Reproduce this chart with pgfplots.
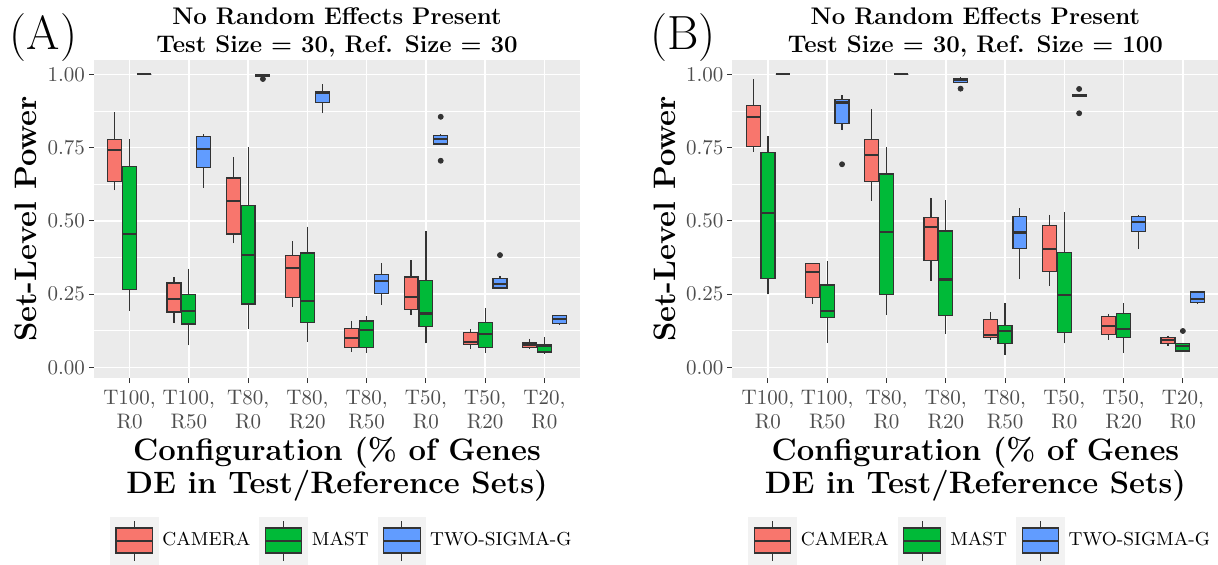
\documentclass[border=0pt]{standalone}
\usepackage{pgfplots}
\pgfplotsset{compat=1.18}
\usepgfplotslibrary{statistics}
\definecolor{camera}{HTML}{F8766D}
\definecolor{mast}{HTML}{00BA38}
\definecolor{tsg}{HTML}{619CFF}
\definecolor{ggbg}{HTML}{EBEBEB}
\definecolor{ggkey}{HTML}{F2F2F2}
\definecolor{gg20}{HTML}{333333}
\definecolor{gg30}{HTML}{4D4D4D}
\newcommand{\bx}[7]{\addplot[forget plot, boxplot/draw direction=y, boxplot prepared={draw position=#1, lower whisker=#2, lower quartile=#3, median=#4, upper quartile=#5, upper whisker=#6, box extend=0.235, whisker extend=0}, fill=#7, draw=gg20, line width=0.6pt] coordinates {};}
\pgfplotsset{
  ggkey/.style={legend image code/.code={
     \fill[ggkey] (0pt,-11.7pt) rectangle (23.8pt,11.7pt);
     \draw[gg20, line width=0.5pt] (11.9pt,-10pt) -- (11.9pt,10pt);
     \filldraw[fill=#1, draw=gg20, line width=0.6pt] (2.8pt,-6.25pt) rectangle (21pt,6.25pt);
     \draw[gg20, line width=1pt] (2.8pt,0pt) -- (21pt,0pt);
  }},
  ggaxis/.style={
    anchor=south west, scale only axis, width=243pt, height=159pt,
    xmin=0.4, xmax=8.6, ymin=-0.0365, ymax=1.0488,
    axis background/.style={fill=ggbg},
    axis line style={draw=none},
    xtick={1,...,8},
    xticklabels={{T100,\\R0},{T100,\\R50},{T80,\\R0},{T80,\\R20},{T80,\\R50},{T50,\\R0},{T50,\\R20},{T20,\\R0}},
    ytick={0,0.25,0.5,0.75,1}, yticklabels={0.00,0.25,0.50,0.75,1.00},
    minor ytick={0.125,0.375,0.625,0.875},
    xmajorgrids, ymajorgrids, yminorgrids,
    major grid style={white, line width=0.8pt},
    minor grid style={white, line width=0.4pt},
    tick align=outside, major tick length=2.5pt, minor tick length=0pt,
    xtick pos=left, ytick pos=left,
    tick style={gg20, line width=0.5pt},
    tick label style={font=\fontsize{10.5}{12}\selectfont, text=gg30},
    xticklabel style={align=center},
    yticklabel style={xshift=1.5pt},
    title style={at={(0.5,1)}, anchor=south, yshift=-4.8pt, inner sep=0pt, align=center, font=\fontsize{12}{14}\selectfont\bfseries},
    xlabel style={at={(axis description cs:0.5,0)}, anchor=north, yshift=-29.4pt, inner sep=0pt, align=center, font=\fontsize{15.5}{16.5}\selectfont\bfseries},
    ylabel style={at={(axis description cs:0,0.5)}, anchor=base, yshift=28.5pt, inner sep=0pt, font=\fontsize{15.5}{16.5}\selectfont\bfseries},
    xlabel={Configuration (\% of Genes\\DE in Test/Reference Sets)},
    ylabel={Set-Level Power},
    boxplot/every median/.style={line width=1.1pt},
    legend columns=3,
    legend style={at={(0.512,-0.511)}, anchor=center, draw=none, fill=none, font=\fontsize{9.4}{11}\selectfont, /tikz/every even column/.append style={column sep=2.5pt}},
    legend cell align=left,
  }
}
\begin{document}
\begin{tikzpicture}
\useasboundingbox (0,0) rectangle (609pt,282pt);
\node[anchor=base west, inner sep=0pt, font=\fontsize{24}{28}\selectfont] at (4.8pt,257.5pt) {(A)};
\node[anchor=base west, inner sep=0pt, font=\fontsize{24}{28}\selectfont] at (324.8pt,257.5pt) {(B)};

\begin{axis}[ggaxis, at={(47pt,93pt)}, title={No Random Effects Present\\Test Size = 30, Ref. Size = 30}]
% T100,R0
\bx{0.75}{0.604}{0.635}{0.741}{0.777}{0.871}{camera}
\bx{1.00}{0.193}{0.265}{0.454}{0.686}{0.778}{mast}
\bx{1.25}{1.000}{1.000}{1.000}{1.000}{1.000}{tsg}
% T100,R50
\bx{1.75}{0.150}{0.189}{0.234}{0.288}{0.309}{camera}
\bx{2.00}{0.075}{0.148}{0.191}{0.249}{0.337}{mast}
\bx{2.25}{0.612}{0.683}{0.744}{0.788}{0.795}{tsg}
% T80,R0
\bx{2.75}{0.423}{0.455}{0.567}{0.646}{0.717}{camera}
\bx{3.00}{0.130}{0.216}{0.384}{0.553}{0.751}{mast}
\bx{3.25}{0.992}{0.994}{0.998}{1.000}{1.000}{tsg}
% T80,R20
\bx{3.75}{0.207}{0.238}{0.340}{0.381}{0.430}{camera}
\bx{4.00}{0.087}{0.152}{0.226}{0.390}{0.480}{mast}
\bx{4.25}{0.867}{0.904}{0.935}{0.942}{0.966}{tsg}
% T80,R50
\bx{4.75}{0.052}{0.068}{0.100}{0.132}{0.159}{camera}
\bx{5.00}{0.050}{0.068}{0.127}{0.158}{0.175}{mast}
\bx{5.25}{0.214}{0.251}{0.295}{0.316}{0.355}{tsg}
% T50,R0
\bx{5.75}{0.177}{0.198}{0.240}{0.308}{0.366}{camera}
\bx{6.00}{0.082}{0.139}{0.184}{0.297}{0.465}{mast}
\bx{6.25}{0.758}{0.762}{0.778}{0.790}{0.795}{tsg}
% T50,R20
\bx{6.75}{0.061}{0.078}{0.086}{0.119}{0.130}{camera}
\bx{7.00}{0.050}{0.067}{0.114}{0.153}{0.202}{mast}
\bx{7.25}{0.268}{0.271}{0.283}{0.304}{0.310}{tsg}
% T20,R0
\bx{7.75}{0.063}{0.067}{0.075}{0.083}{0.098}{camera}
\bx{8.00}{0.046}{0.052}{0.074}{0.077}{0.102}{mast}
\bx{8.25}{0.146}{0.150}{0.164}{0.177}{0.177}{tsg}
% outliers
\addplot[forget plot, only marks, mark=*, mark size=1.25pt, gg20] coordinates {(3.25,0.984) (6.25,0.855) (6.25,0.705) (7.25,0.383)};
\addlegendimage{ggkey=camera}\addlegendentry{CAMERA}
\addlegendimage{ggkey=mast}\addlegendentry{MAST}
\addlegendimage{ggkey=tsg}\addlegendentry{TWO-SIGMA-G}
\end{axis}

\begin{axis}[ggaxis, at={(366.2pt,93pt)}, title={No Random Effects Present\\Test Size = 30, Ref. Size = 100}]
% T100,R0
\bx{0.75}{0.736}{0.754}{0.853}{0.893}{0.983}{camera}
\bx{1.00}{0.250}{0.302}{0.526}{0.732}{0.789}{mast}
\bx{1.25}{1.000}{1.000}{1.000}{1.000}{1.000}{tsg}
% T100,R50
\bx{1.75}{0.216}{0.239}{0.324}{0.355}{0.355}{camera}
\bx{2.00}{0.084}{0.169}{0.192}{0.281}{0.363}{mast}
\bx{2.25}{0.809}{0.831}{0.904}{0.915}{0.929}{tsg}
% T80,R0
\bx{2.75}{0.568}{0.633}{0.724}{0.778}{0.882}{camera}
\bx{3.00}{0.178}{0.249}{0.461}{0.660}{0.752}{mast}
\bx{3.25}{1.000}{1.000}{1.000}{1.000}{1.000}{tsg}
% T80,R20
\bx{3.75}{0.295}{0.364}{0.480}{0.512}{0.579}{camera}
\bx{4.00}{0.115}{0.178}{0.300}{0.465}{0.571}{mast}
\bx{4.25}{0.973}{0.973}{0.981}{0.987}{0.990}{tsg}
% T80,R50
\bx{4.75}{0.094}{0.102}{0.110}{0.163}{0.188}{camera}
\bx{5.00}{0.041}{0.082}{0.124}{0.142}{0.218}{mast}
\bx{5.25}{0.301}{0.406}{0.460}{0.516}{0.543}{tsg}
% T50,R0
\bx{5.75}{0.277}{0.328}{0.404}{0.485}{0.521}{camera}
\bx{6.00}{0.082}{0.119}{0.246}{0.392}{0.529}{mast}
\bx{6.25}{0.925}{0.925}{0.928}{0.932}{0.932}{tsg}
% T50,R20
\bx{6.75}{0.094}{0.111}{0.141}{0.173}{0.182}{camera}
\bx{7.00}{0.050}{0.103}{0.132}{0.184}{0.218}{mast}
\bx{7.25}{0.403}{0.464}{0.497}{0.515}{0.520}{tsg}
% T20,R0
\bx{7.75}{0.073}{0.080}{0.092}{0.102}{0.108}{camera}
\bx{8.00}{0.051}{0.056}{0.073}{0.081}{0.083}{mast}
\bx{8.25}{0.217}{0.222}{0.234}{0.257}{0.262}{tsg}
% outliers
\addplot[forget plot, only marks, mark=*, mark size=1.25pt, gg20] coordinates {(2.25,0.693) (4.25,0.951) (6.25,0.950) (6.25,0.867) (8.00,0.124)};
\addlegendimage{ggkey=camera}\addlegendentry{CAMERA}
\addlegendimage{ggkey=mast}\addlegendentry{MAST}
\addlegendimage{ggkey=tsg}\addlegendentry{TWO-SIGMA-G}
\end{axis}
\end{tikzpicture}
\end{document}
